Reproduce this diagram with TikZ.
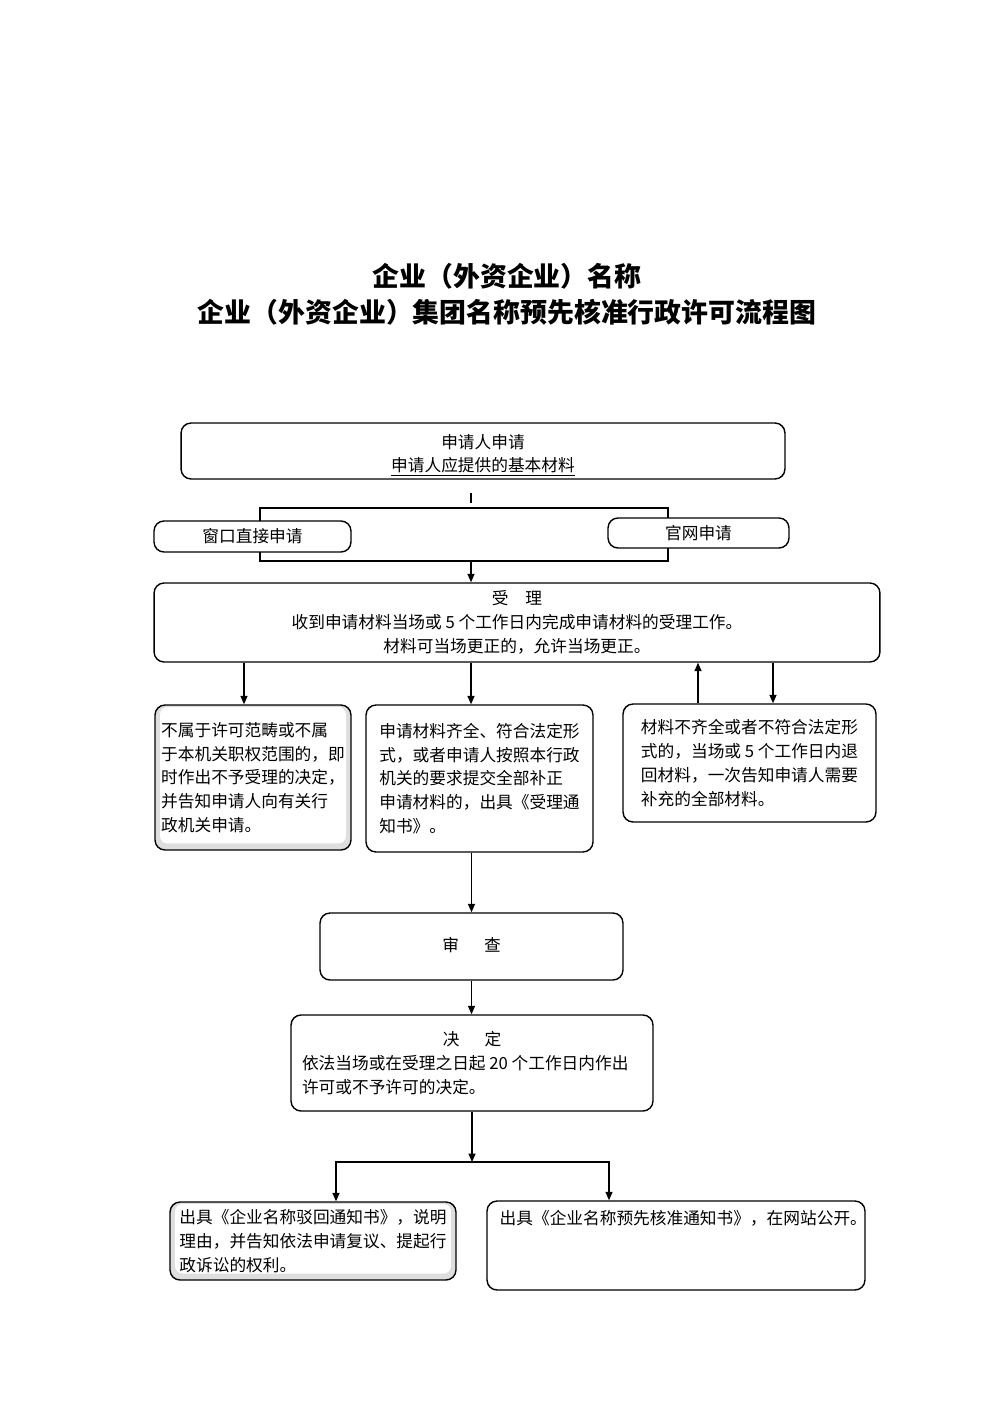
\documentclass[tikz,border=0pt]{standalone}
\usepackage{fontspec}
\setmainfont{Noto Sans CJK SC}
\usetikzlibrary{arrows.meta}

\newcommand{\bodyfont}{\fontsize{9.5}{13.5}\selectfont}
\newcommand{\headfont}{\fontsize{15.3}{20.4}\selectfont\bfseries}

\tikzset{
    flowbox/.style={draw, line width=0.8pt, rounded corners=0.2cm, fill=white,
        inner sep=0pt, align=center, font=\bodyfont},
    notebox/.style={flowbox, align=left},
    shadebox/.style={notebox, fill=black!13,
        path picture={\fill[white, rounded corners=0.15cm]
            ([shift={(0.1cm,-0.04cm)}]path picture bounding box.north west) rectangle
            ([shift={(-0.1cm,0.13cm)}]path picture bounding box.south east);}},
    arr/.style={line width=0.8pt, -{Triangle[length=1.7mm,width=1.4mm]}}
}

\begin{document}
\begin{tikzpicture}[x=0.02cm, y=-0.02cm]
    \useasboundingbox (0,0) rectangle (1000,1415);

    % title
    \node[font=\headfont, align=center] (title) at (507,294)
        {企业（外资企业）名称\\企业（外资企业）集团名称预先核准行政许可流程图};

    % application
    \node[flowbox, minimum width=12.08cm, minimum height=1.12cm] (apply) at (483,451)
        {\rule{0pt}{13pt}申请人申请\\\underline{申请人应提供的基本材料}};
    \coordinate (split) at (471,493);
    \draw[line width=0.8pt] (split) -- ++(0,10);
    \draw[line width=0.8pt] (260,508) rectangle (668,561);
    \coordinate (merge) at (471,561);
    \node[flowbox, minimum width=3.94cm, minimum height=0.62cm] (window) at (252.5,536.5) {窗口直接申请};
    \node[flowbox, minimum width=3.62cm, minimum height=0.6cm] (online) at (698.5,533) {官网申请};

    % acceptance
    \node[flowbox, minimum width=14.52cm, minimum height=1.58cm] (accept) at (517,622.5)
        {受\hspace{1em}理\\收到申请材料当场或 5 个工作日内完成申请材料的受理工作。\\材料可当场更正的，允许当场更正。};
    \draw[arr] (merge) -- (merge |- accept.north);

    \node[shadebox, minimum width=3.92cm, minimum height=2.9cm] (refuse) at (253,777.5)
        {不属于许可范畴或不属\\于本机关职权范围的，即\\时作出不予受理的决定，\\并告知申请人向有关行\\政机关申请。};
    \node[notebox, minimum width=4.54cm, minimum height=2.94cm] (admit) at (479.5,778.5)
        {申请材料齐全、符合法定形\\式，或者申请人按照本行政\\机关的要求提交全部补正\\申请材料的，出具《受理通\\知书》。};
    \node[notebox, minimum width=5.06cm, minimum height=2.36cm] (lack) at (749.5,763)
        {材料不齐全或者不符合法定形\\式的，当场或 5 个工作日内退\\回材料，一次告知申请人需要\\补充的全部材料。};

    \draw[arr] ([xshift=-0.18cm]refuse.north |- accept.south) -- ([xshift=-0.18cm]refuse.north);
    \draw[arr] ([xshift=-0.17cm]admit.north |- accept.south) -- ([xshift=-0.17cm]admit.north);
    \draw[arr] ([xshift=-1.03cm]lack.north) -- ([xshift=-1.03cm]lack.north |- accept.south);
    \draw[arr] ([xshift=0.47cm]lack.north |- accept.south) -- ([xshift=0.47cm]lack.north);

    % review and decision
    \node[flowbox, minimum width=6.06cm, minimum height=1.34cm] (review) at (471.5,946.5)
        {\raisebox{2pt}{审\hspace{1.5em}查}};
    \draw[arr] (review.north |- admit.south) -- (review.north);

    \node[notebox, minimum width=7.24cm, minimum height=1.92cm] (decide) at (472,1063)
        {\makebox[6.8cm]{决\hspace{1.5em}定}\\依法当场或在受理之日起 20 个工作日内作出\\许可或不予许可的决定。};
    \draw[arr] (review.south) -- (review.south |- decide.north);

    % results
    \node[shadebox, minimum width=5.72cm, minimum height=1.56cm] (reject) at (313,1241)
        {出具《企业名称驳回通知书》，说明\\理由，并告知依法申请复议、提起行\\政诉讼的权利。};
    \node[flowbox, minimum width=7.56cm, minimum height=1.78cm] (grant) at (676,1245.5) {};
    \node[font=\bodyfont, anchor=north west, inner sep=0pt] (granttext) at ([shift={(0.26cm,-0.2cm)}]grant.north west)
        {出具《企业名称预先核准通知书》，在网站公开。};

    \coordinate (fork) at (decide.south |- 0,1162);
    \draw[arr] (decide.south) -- (fork);
    \draw[arr] (fork) -| ([xshift=0.46cm]reject.north);
    \draw[arr] (fork) -| ([xshift=-1.34cm]grant.north);
\end{tikzpicture}
\end{document}
